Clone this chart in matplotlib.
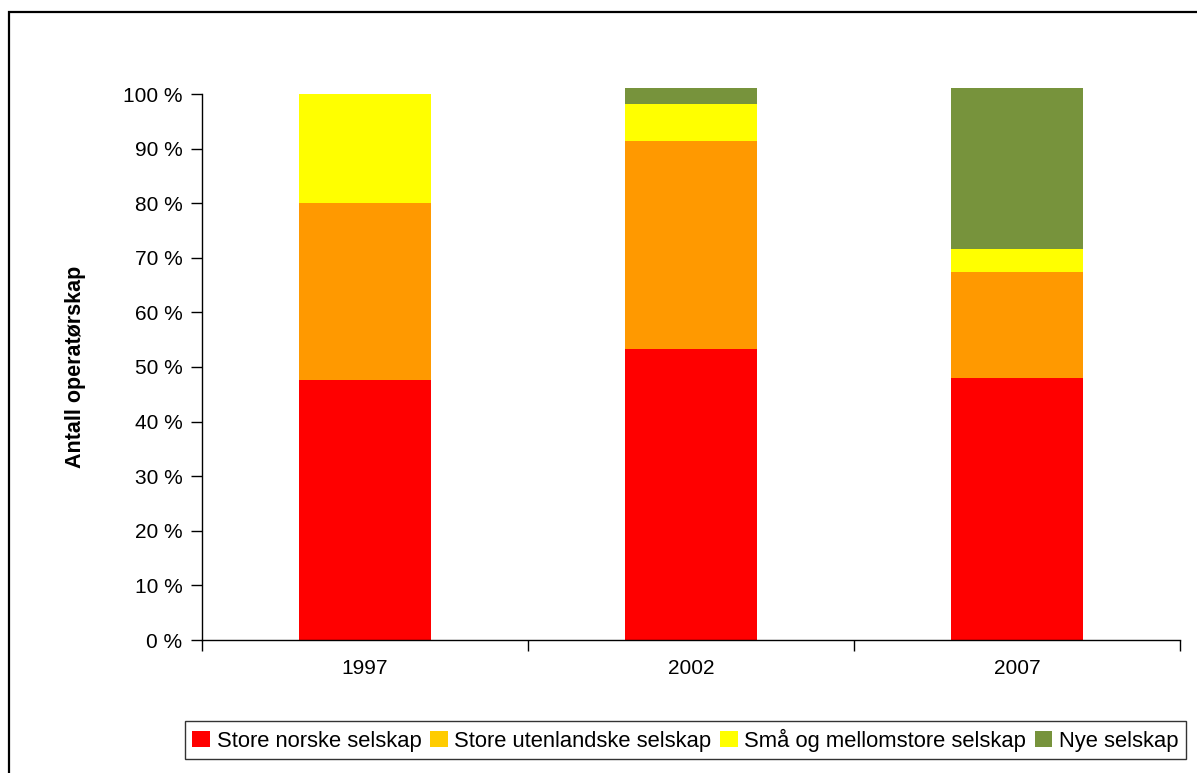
import matplotlib
matplotlib.use("Agg")
import matplotlib.pyplot as plt
from matplotlib.patches import Rectangle, Patch
import numpy as np

plt.rcParams['font.family'] = ['Liberation Sans', 'DejaVu Sans']

years = ["1997", "2002", "2007"]
series_names = ["Store norske selskap", "Store utenlandske selskap",
                "Små og mellomstore selskap", "Nye selskap"]
store_norske = [47.6, 53.3, 48.0]
store_utenlandske = [32.4, 38.1, 19.4]
sma_mellomstore = [20.0, 6.8, 4.2]
nye = [0.0, 2.9, 29.5]
yticks = [0, 10, 20, 30, 40, 50, 60, 70, 80, 90, 100]

bar_colors = ["#FF0000", "#FF9900", "#FFFF00", "#77933C"]
legend_colors = ["#FF0000", "#FFCC00", "#FFFF00", "#77933C"]

FS = 15
W, H = 1197, 773
fig = plt.figure(figsize=(W / 100, H / 100), dpi=100)
ax = fig.add_axes([202 / W, 1 - 640 / H, (1180 - 202) / W, (640 - 94) / H])

x = np.arange(len(years))
bottom = np.zeros(len(years))
for vals, col in zip([store_norske, store_utenlandske, sma_mellomstore, nye], bar_colors):
    ax.bar(x, vals, width=0.405, bottom=bottom, color=col, edgecolor="none",
           clip_on=False, zorder=2)
    bottom += np.array(vals)

ax.set_xlim(-0.5, 2.5)
ax.set_ylim(0, 100)
ax.set_yticks(yticks)
ax.set_yticklabels([f"{v} %" for v in yticks], fontsize=FS)
ax.set_xticks(x)
ax.set_xticklabels(years, fontsize=FS)
ax.set_xticks([-0.5, 0.5, 1.5, 2.5], minor=True)
ax.tick_params(axis="x", which="major", length=0, pad=14)
ax.tick_params(axis="x", which="minor", length=8, width=1, direction="out")
ax.tick_params(axis="y", length=8, width=1, direction="out", pad=6)
for s in ["top", "right"]:
    ax.spines[s].set_visible(False)
for s in ["left", "bottom"]:
    ax.spines[s].set_linewidth(1)
ax.set_ylabel("Antall operatørskap", fontsize=15.5, fontweight="bold", labelpad=27)

handles = [Patch(facecolor=c, edgecolor="none") for c in legend_colors]
leg = fig.legend(handles, series_names, loc="center", ncol=4,
                 bbox_to_anchor=(685.5 / W, 1 - 740 / H), fontsize=15.8,
                 frameon=True, fancybox=False, edgecolor="black",
                 handlelength=0.8, handleheight=0.8, handletextpad=0.3,
                 columnspacing=0.4, borderpad=0.35)
leg.get_frame().set_linewidth(1)

# Outer chart frame
fig.patches.append(Rectangle((9 / W, -0.05), 1.1, 1 - 12 / H + 0.05,
                             transform=fig.transFigure, fill=False,
                             edgecolor="black", linewidth=1.6))

fig.savefig("out.png", dpi=100)
